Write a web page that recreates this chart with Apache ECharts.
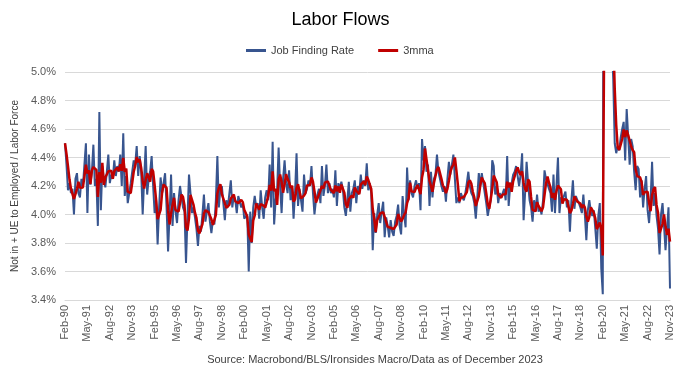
<!DOCTYPE html>
<html><head><meta charset="utf-8">
<script src="https://cdn.jsdelivr.net/npm/echarts@6/dist/echarts.min.js"></script>
<style>html,body{margin:0;padding:0;background:#fff}#c{width:681px;height:370px}</style>
</head><body><div id="c"></div>
<script>
// Monthly categories Feb-90 .. Nov-23
const monthNames = ['Jan','Feb','Mar','Apr','May','Jun','Jul','Aug','Sep','Oct','Nov','Dec'];
const categories = [];
for (let i = 0; i < 406; i++) {
  const m = (1 + i) % 12;
  const y = 1990 + Math.floor((1 + i) / 12);
  categories.push(monthNames[m] + '-' + String(y % 100).padStart(2, '0'));
}

// Job Finding Rate (%)
const jobFindingRate = [
4.50,4.35,4.17,4.22,4.15,4.18,4.00,4.25,4.29,4.15,
4.12,4.25,4.20,4.35,4.50,4.01,4.42,4.21,4.30,4.49,
4.20,4.25,3.92,4.72,4.03,4.34,4.25,4.19,4.30,4.42,
4.22,4.28,4.25,4.38,4.27,4.34,4.30,4.42,4.20,4.57,
4.13,4.27,4.08,4.15,4.22,4.30,4.38,4.35,4.48,4.27,
4.41,4.30,4.00,4.25,4.48,4.14,4.25,4.30,4.41,4.20,
4.01,4.10,3.79,4.05,4.26,4.15,4.22,4.29,4.05,3.74,
4.00,4.28,3.92,4.15,4.02,3.94,4.10,4.20,4.12,4.05,
4.02,3.66,3.98,4.28,4.15,4.01,4.05,3.98,3.90,3.78,
3.92,3.88,4.00,4.14,3.95,4.02,4.08,3.95,3.87,3.96,
3.93,4.10,4.41,4.05,4.18,4.20,4.08,3.96,4.10,4.05,
4.05,4.24,4.05,4.13,4.10,4.01,4.13,4.13,4.05,4.08,
3.97,3.98,4.00,3.60,4.02,3.80,4.05,4.13,4.05,4.08,
3.97,4.17,4.05,3.97,4.12,4.17,4.10,4.35,4.05,4.51,
3.93,4.10,4.17,4.47,4.20,4.01,4.25,4.38,4.22,4.15,
4.31,4.10,4.20,3.97,4.15,4.43,4.06,4.18,4.10,4.02,
4.28,4.15,4.18,4.24,4.20,4.34,4.15,4.00,4.10,4.14,
4.18,4.08,4.34,4.13,4.20,4.35,4.15,4.22,4.15,4.18,
4.12,4.31,4.06,4.22,4.18,4.23,4.18,4.05,3.99,4.10,
4.23,4.02,4.15,4.18,4.24,4.08,4.20,4.15,4.28,4.18,
4.24,4.20,4.36,4.17,4.22,4.15,3.75,4.01,3.87,4.00,
4.08,3.94,4.02,4.09,3.84,3.98,3.92,3.84,3.96,3.88,
3.85,3.95,3.99,4.07,3.92,3.86,4.13,4.00,3.91,4.33,
4.10,4.24,4.15,4.12,4.20,4.24,4.18,4.22,4.03,4.53,
4.38,4.48,4.30,4.35,4.06,4.30,4.12,4.25,4.28,4.42,
4.30,4.25,4.20,4.16,4.20,4.09,4.25,4.37,4.28,4.35,
4.42,4.43,4.08,4.12,4.08,4.15,4.12,4.10,4.15,4.22,
4.30,4.20,4.15,4.13,4.08,3.97,4.12,4.29,4.20,4.29,
4.22,4.15,4.08,3.99,4.05,4.10,4.38,4.34,4.14,4.20,
4.08,4.15,4.12,4.15,4.18,4.10,4.41,4.06,4.20,4.22,
4.28,4.30,4.34,4.35,4.20,4.28,4.43,3.96,4.15,4.37,
4.22,4.10,4.05,3.95,4.10,4.02,4.14,4.02,4.05,4.00,
4.10,4.31,4.25,4.24,4.18,4.15,4.02,4.28,4.01,4.20,
4.40,4.01,4.12,4.10,4.10,4.16,4.05,4.10,3.88,4.10,
4.24,4.04,4.13,4.10,4.08,4.05,4.01,4.14,4.00,3.82,
4.03,4.10,4.02,3.99,4.03,3.90,3.76,3.99,4.08,3.62,
3.44,9.00,8.00,7.00,6.20,5.60,5.20,4.95,4.50,4.43,
4.48,4.45,4.54,4.60,4.65,4.38,4.74,4.55,4.35,4.53,
4.48,4.30,4.17,4.34,4.32,4.12,4.24,4.05,4.18,4.27,
4.03,3.94,4.10,4.37,4.06,4.15,3.99,3.90,3.72,4.00,
4.08,3.92,3.75,3.90,4.05,3.48
];

// 3-month moving average of the series above (as the chart defines it)
const mma3 = jobFindingRate.map((v, i) => {
  const s = jobFindingRate.slice(Math.max(0, i - 2), i + 1);
  return +(s.reduce((a, b) => a + b, 0) / s.length).toFixed(3);
});

const yTicks = { min: 3.4, max: 5.0, interval: 0.2 };

const chart = echarts.init(document.getElementById('c'), null, { renderer: 'canvas' });
const font = 'Liberation Sans, Arial, sans-serif';
chart.setOption({
  animation: false,
  backgroundColor: '#ffffff',
  textStyle: { fontFamily: font },
  title: [
    { text: 'Labor Flows', left: 'center', top: 6,
      textStyle: { fontSize: 18, fontWeight: 'normal', color: '#000000', fontFamily: font } },
    { text: 'Source: Macrobond/BLS/Ironsides Macro/Data as of December 2023', left: 370, textAlign: 'center', top: 349,
      textStyle: { fontSize: 11, fontWeight: 'normal', color: '#404040', fontFamily: font } }
  ],
  legend: {
    top: 40, left: 241,
    itemWidth: 20, itemHeight: 3, itemGap: 24,
    icon: 'rect',
    textStyle: { fontSize: 11, color: '#404040', fontFamily: font },
    data: ['Job Finding Rate', '3mma']
  },
  grid: { left: 65, right: 11, top: 72, bottom: 70 },
  xAxis: {
    type: 'category',
    data: categories,
    boundaryGap: false,
    axisLine: { show: true, lineStyle: { color: '#d9d9d9' } },
    axisTick: { show: false },
    axisLabel: { interval: 14, rotate: 90, fontSize: 11, color: '#595959', margin: 5, fontFamily: font },
    splitLine: { show: false }
  },
  yAxis: {
    type: 'value',
    min: yTicks.min, max: yTicks.max, interval: yTicks.interval,
    name: 'Not in + UE to Employed / Labor Force',
    nameLocation: 'middle', nameGap: 39, nameRotate: 90,
    nameTextStyle: { fontSize: 10, color: '#404040', fontFamily: font },
    axisLine: { show: false }, axisTick: { show: false },
    axisLabel: { fontSize: 11, color: '#595959', margin: 9, fontFamily: font,
      formatter: v => v.toFixed(1) + '%' },
    splitLine: { lineStyle: { color: '#d9d9d9', width: 1 } }
  },
  series: [
    { name: 'Job Finding Rate', type: 'line', data: jobFindingRate, showSymbol: false, symbol: 'none',
      clip: true, lineStyle: { color: '#38558f', width: 2 }, itemStyle: { color: '#38558f' }, z: 2 },
    { name: '3mma', type: 'line', data: mma3, showSymbol: false, symbol: 'none',
      clip: true, lineStyle: { color: '#c00000', width: 2.5 }, itemStyle: { color: '#c00000' }, z: 3 }
  ]
});
</script>
</body></html>
